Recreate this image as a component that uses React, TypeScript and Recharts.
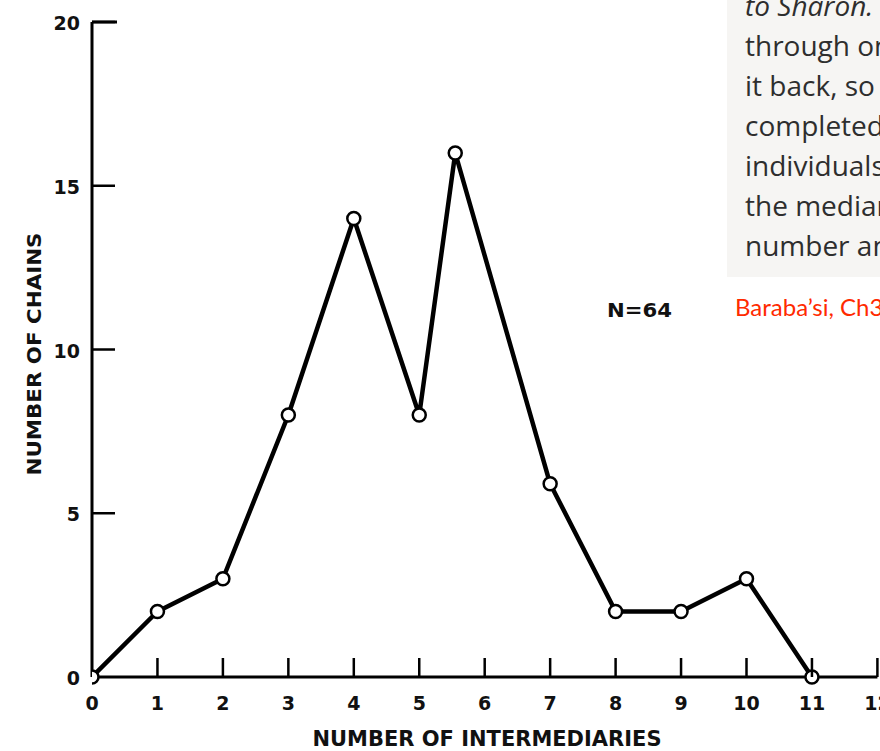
import React from 'react'
import { LineChart, Line, XAxis, YAxis } from 'recharts'

// Milgram's small-world experiment: completed chains by number of intermediaries
const intermediaries = [0, 1, 2, 3, 4, 5, 5.55, 7, 8, 9, 10, 11]
const chains = [0, 2, 3, 8, 14, 8, 16, 5.9, 2, 2, 3, 0]
const xTicks = [0, 1, 2, 3, 4, 5, 6, 7, 8, 9, 10, 11, 12]
const yTicks = [0, 5, 10, 15, 20]
const boxLines = ['through one of his', 'it back, so that', 'completed chains', 'individuals who', 'the median of', 'number and']

const data = intermediaries.map((x, i) => ({ x, y: chains[i] }))

const TICK_FONT = '"DejaVu Sans", sans-serif'

const XTick = (props: any) => {
  const { x, y, payload } = props
  return (
    <g>
      {payload.value !== 0 && <line x1={x} y1={y} x2={x} y2={y - 19} stroke="#000" strokeWidth={2.5} />}
      <text x={x} y={y + 33} textAnchor="middle" fontFamily={TICK_FONT} fontWeight="bold" fontSize={19} fill="#111">
        {payload.value}
      </text>
    </g>
  )
}

const YTick = (props: any) => {
  const { x, y, payload } = props
  return (
    <g>
      {payload.value !== 0 && <line x1={x} y1={y} x2={x + 23} y2={y} stroke="#000" strokeWidth={2.5} />}
      <text x={x - 12} y={y + 8} textAnchor="end" fontFamily={TICK_FONT} fontWeight="bold" fontSize={19} fill="#111">
        {payload.value}
      </text>
    </g>
  )
}

export default function App() {
  return (
    <div style={{ position: 'absolute', left: 0, top: 0, width: 880, height: 751, overflow: 'hidden', background: '#fff' }}>
      <LineChart width={880} height={751} data={data} margin={{ top: 22, right: 2.6, bottom: 0, left: 0 }}>
        <XAxis
          dataKey="x"
          type="number"
          domain={[0, 12]}
          ticks={xTicks}
          interval={0}
          height={74}
          tickSize={0}
          tickMargin={0}
          tickLine={false}
          axisLine={{ stroke: '#000', strokeWidth: 3 }}
          tick={<XTick />}
          allowDataOverflow
        />
        <YAxis
          type="number"
          domain={[0, 20]}
          ticks={yTicks}
          interval={0}
          width={92}
          tickSize={0}
          tickMargin={0}
          tickLine={false}
          axisLine={{ stroke: '#000', strokeWidth: 3 }}
          tick={<YTick />}
        />
        <Line
          dataKey="y"
          type="linear"
          stroke="#000"
          strokeWidth={4.5}
          strokeLinejoin="round"
          dot={{ r: 6.5, fill: '#fff', stroke: '#000', strokeWidth: 2.5 }}
          isAnimationActive={false}
        />
      </LineChart>

      <svg width={880} height={751} style={{ position: 'absolute', left: 0, top: 0, pointerEvents: 'none' }}>
        <line x1={92} y1={22} x2={117} y2={22} stroke="#000" strokeWidth={3} />
        <text x={487} y={746} textAnchor="middle" fontFamily={TICK_FONT} fontWeight="bold" fontSize={21} fill="#111"
          textLength={349} lengthAdjust="spacingAndGlyphs">
          NUMBER OF INTERMEDIARIES
        </text>
        <text transform="translate(41,354) rotate(-90)" textAnchor="middle" fontFamily={TICK_FONT} fontWeight="bold" fontSize={20} fill="#111"
          textLength={243} lengthAdjust="spacingAndGlyphs">
          NUMBER OF CHAINS
        </text>
        <text x={607} y={317} fontFamily={TICK_FONT} fontWeight="bold" fontSize={19} fill="#111"
          textLength={65} lengthAdjust="spacingAndGlyphs">
          N=64
        </text>
      </svg>

      <div style={{
        position: 'absolute', left: 727, top: 0, width: 300, height: 277, background: '#f6f5f3',
        fontFamily: '"Open Sans", sans-serif', fontSize: 28, lineHeight: '40px', color: '#2e2e2e',
        whiteSpace: 'nowrap', overflow: 'hidden',
      }}>
        <div style={{ position: 'absolute', left: 18, top: -15 }}>
          <div><i>to Sharon.</i> He</div>
          {boxLines.map((l, i) => <div key={i}>{l}</div>)}
        </div>
      </div>
      <div style={{
        position: 'absolute', left: 735, top: 292, fontFamily: 'Lato, sans-serif', fontSize: 24,
        color: '#ff2a00', whiteSpace: 'nowrap',
      }}>
        Baraba’si, Ch3
      </div>
    </div>
  )
}
